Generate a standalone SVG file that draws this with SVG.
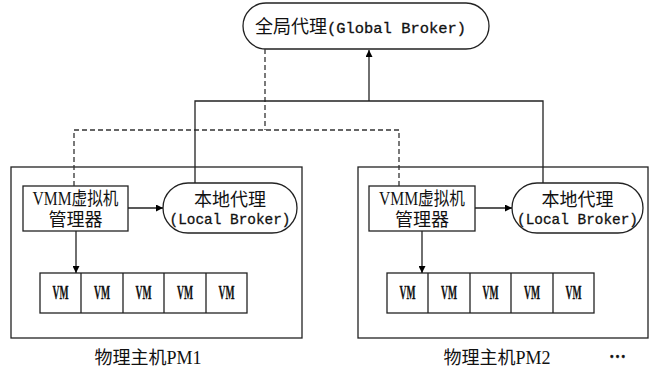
<svg xmlns="http://www.w3.org/2000/svg" width="653" height="373" viewBox="0 0 653 373">
<defs>
<marker id="ah" viewBox="0 0 10 10" refX="10" refY="5" markerWidth="7" markerHeight="7" markerUnits="userSpaceOnUse" orient="auto"><path d="M0,0 L10,5 L0,10 z" fill="#000"/></marker>
<style>
.b{fill:#fff;stroke:#222;stroke-width:1.3}
.l{fill:none;stroke:#222;stroke-width:1.3}
.d{fill:none;stroke:#333;stroke-width:1.3;stroke-dasharray:5,3}
.cj{font-family:"Liberation Serif","Noto Sans CJK SC",serif;font-size:18px;fill:#111}
.mo{font-family:"Liberation Mono","Noto Sans CJK SC",monospace;font-size:15px;fill:#111;stroke:#111;stroke-width:0.3}
.vm{font-family:"Liberation Serif",serif;font-size:18px;font-weight:bold;fill:#111;stroke:#111;stroke-width:0.3}
</style>
</defs>
<rect width="653" height="373" fill="#fff"/>
<g id="pm1">
<rect class="b" x="11" y="167" width="291" height="171"/>
<text class="cj" x="148" y="364" text-anchor="middle">物理主机PM1</text>
</g>
<g id="pm2">
<rect class="b" x="358" y="167" width="290" height="171"/>
<text class="cj" x="497" y="364" text-anchor="middle">物理主机PM2</text>
<text class="vm" x="609" y="358" font-size="24px" textLength="17" lengthAdjust="spacingAndGlyphs">…</text>
</g>
<g id="global">
<rect class="b" x="243" y="3" width="246" height="46" rx="23" ry="23"/>
<text x="255" y="33"><tspan class="cj" font-size="19px">全局代理</tspan><tspan class="mo" font-size="15.5px" textLength="139" lengthAdjust="spacingAndGlyphs">(Global Broker)</tspan></text>
</g>
<g id="vmm1">
<rect class="b" x="23" y="186" width="105" height="45"/>
<text class="cj" x="75.5" y="205" text-anchor="middle" textLength="86" lengthAdjust="spacingAndGlyphs">VMM虚拟机</text>
<text class="cj" x="75.5" y="226" text-anchor="middle">管理器</text>
</g>
<g id="local1">
<rect class="b" x="163" y="183" width="134" height="50" rx="25" ry="25"/>
<text class="cj" x="230" y="206" text-anchor="middle" font-size="19px">本地代理</text>
<text class="mo" x="230" y="224" text-anchor="middle" textLength="121" lengthAdjust="spacingAndGlyphs">(Local Broker)</text>
</g>
<g id="vms1">
<rect class="b" x="40" y="273" width="207" height="40"/>
<path class="l" d="M81,273V313M123,273V313M164,273V313M206,273V313"/>
<text class="vm" x="60.5" y="298.5" text-anchor="middle" textLength="16" lengthAdjust="spacingAndGlyphs">VM</text>
<text class="vm" x="102" y="298.5" text-anchor="middle" textLength="16" lengthAdjust="spacingAndGlyphs">VM</text>
<text class="vm" x="143.5" y="298.5" text-anchor="middle" textLength="16" lengthAdjust="spacingAndGlyphs">VM</text>
<text class="vm" x="185" y="298.5" text-anchor="middle" textLength="16" lengthAdjust="spacingAndGlyphs">VM</text>
<text class="vm" x="226.5" y="298.5" text-anchor="middle" textLength="16" lengthAdjust="spacingAndGlyphs">VM</text>
</g>
<g id="vmm2">
<rect class="b" x="369" y="186" width="106" height="45"/>
<text class="cj" x="422" y="205" text-anchor="middle" textLength="86" lengthAdjust="spacingAndGlyphs">VMM虚拟机</text>
<text class="cj" x="422" y="226" text-anchor="middle">管理器</text>
</g>
<g id="local2">
<rect class="b" x="512" y="183" width="131" height="50" rx="25" ry="25"/>
<text class="cj" x="577.5" y="206" text-anchor="middle" font-size="19px">本地代理</text>
<text class="mo" x="577.5" y="224" text-anchor="middle" textLength="121" lengthAdjust="spacingAndGlyphs">(Local Broker)</text>
</g>
<g id="vms2">
<rect class="b" x="387" y="273" width="207" height="40"/>
<path class="l" d="M428,273V313M470,273V313M511,273V313M553,273V313"/>
<text class="vm" x="407.5" y="298.5" text-anchor="middle" textLength="16" lengthAdjust="spacingAndGlyphs">VM</text>
<text class="vm" x="449" y="298.5" text-anchor="middle" textLength="16" lengthAdjust="spacingAndGlyphs">VM</text>
<text class="vm" x="490.5" y="298.5" text-anchor="middle" textLength="16" lengthAdjust="spacingAndGlyphs">VM</text>
<text class="vm" x="532" y="298.5" text-anchor="middle" textLength="16" lengthAdjust="spacingAndGlyphs">VM</text>
<text class="vm" x="573.5" y="298.5" text-anchor="middle" textLength="16" lengthAdjust="spacingAndGlyphs">VM</text>
</g>
<g id="connectors">
<path class="d" d="M265,49V130M74,186V130H399V186"/>
<path class="l" d="M195,183V101H543V183"/>
<path class="l" d="M369,101V50" marker-end="url(#ah)"/>
<path class="l" d="M128,208H163" marker-end="url(#ah)"/>
<path class="l" d="M475,208H512" marker-end="url(#ah)"/>
<path class="l" d="M76,231V273" marker-end="url(#ah)"/>
<path class="l" d="M422,231V273" marker-end="url(#ah)"/>
</g>
</svg>
